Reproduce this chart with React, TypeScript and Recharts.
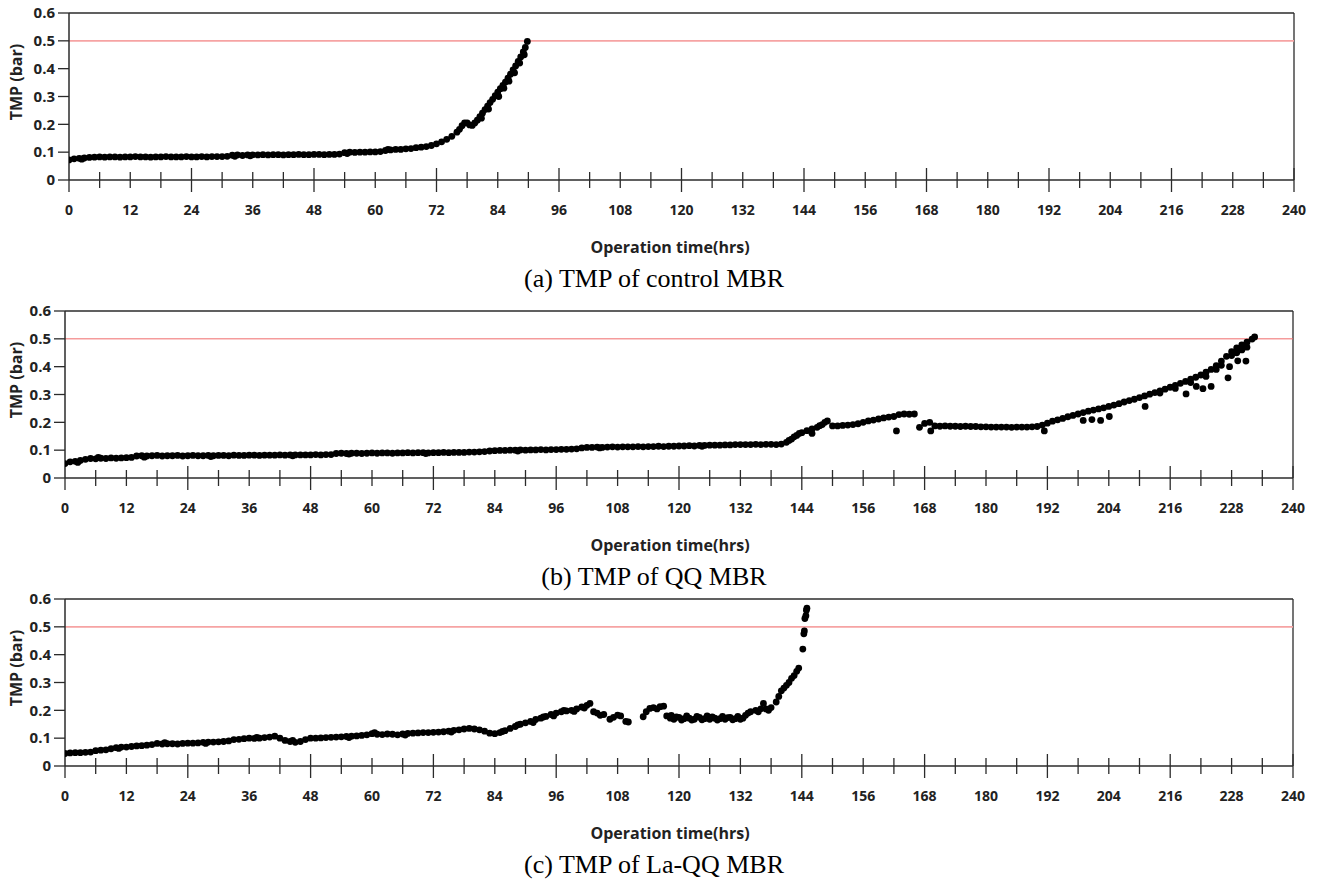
import { ScatterChart, Scatter, XAxis, YAxis, ReferenceLine } from "recharts";

type Pair = [number, number];

const hourTicks = [
  0, 6, 12, 18, 24, 30, 36, 42, 48, 54, 60, 66, 72, 78, 84, 90, 96, 102, 108, 114, 120,
  126, 132, 138, 144, 150, 156, 162, 168, 174, 180, 186, 192, 198, 204, 210, 216, 222,
  228, 234, 240,
];
const tmpTicks = [0, 0.1, 0.2, 0.3, 0.4, 0.5, 0.6];

// (a) control MBR
const controlTmp: Pair[] = [
  [0, 0.072], [1, 0.076], [2, 0.078], [3, 0.079], [4, 0.081], [5, 0.082], [6, 0.083], [7, 0.082],
  [8, 0.083], [9, 0.083], [10, 0.082], [11, 0.083], [12, 0.083], [13, 0.084], [14, 0.083], [15, 0.083],
  [16, 0.082], [17, 0.083], [18, 0.083], [19, 0.084], [20, 0.083], [21, 0.083], [22, 0.083], [23, 0.084],
  [24, 0.083], [25, 0.083], [26, 0.084], [27, 0.083], [28, 0.084], [29, 0.084], [30, 0.084], [31, 0.085],
  [32, 0.089], [33, 0.09], [34, 0.088], [35, 0.09], [36, 0.09], [37, 0.09], [38, 0.091], [39, 0.09],
  [40, 0.091], [41, 0.091], [42, 0.09], [43, 0.091], [44, 0.091], [45, 0.092], [46, 0.091], [47, 0.091],
  [48, 0.092], [49, 0.092], [50, 0.091], [51, 0.092], [52, 0.092], [53, 0.093], [54, 0.098], [55, 0.1],
  [56, 0.099], [57, 0.1], [58, 0.1], [59, 0.101], [60, 0.101], [61, 0.102], [62, 0.106], [63, 0.108],
  [64, 0.11], [65, 0.11], [66, 0.112], [67, 0.113], [68, 0.116], [69, 0.118], [70, 0.12], [71, 0.124],
  [72, 0.13], [73, 0.137], [74, 0.146], [75, 0.157], [76, 0.172], [76.5, 0.182], [77, 0.195], [77.5, 0.205],
  [78, 0.205], [78.5, 0.198], [79, 0.196], [79.5, 0.205], [80, 0.215], [80.5, 0.228], [81, 0.24], [81.5, 0.253],
  [82, 0.265], [82.5, 0.278], [83, 0.29], [83.5, 0.303], [84, 0.316], [84.5, 0.328], [85, 0.34], [85.5, 0.352],
  [86, 0.366], [86.5, 0.38], [87, 0.396], [87.5, 0.41], [88, 0.426], [88.5, 0.442], [89, 0.46], [89.4, 0.476],
  [89.8, 0.498],
];
const controlStray: Pair[] = [
  [2.5, 0.075], [32.5, 0.085], [35.5, 0.087], [54.5, 0.095], [62.5, 0.11], [80.8, 0.222], [82.2, 0.255],
  [84.2, 0.3], [85.2, 0.33], [86.2, 0.355], [87.3, 0.385], [88.3, 0.42], [89.2, 0.45],
];

// (b) QQ MBR
const qqTmp: Pair[] = [
  [0, 0.052], [1, 0.058], [2, 0.06], [3, 0.063], [4, 0.067], [5, 0.07], [6, 0.069], [7, 0.071],
  [8, 0.07], [9, 0.072], [10, 0.071], [11, 0.072], [12, 0.073], [13, 0.074], [14, 0.079], [15, 0.08],
  [16, 0.079], [17, 0.08], [18, 0.081], [19, 0.079], [20, 0.08], [21, 0.08], [22, 0.081], [23, 0.079],
  [24, 0.08], [25, 0.081], [26, 0.08], [27, 0.08], [28, 0.081], [29, 0.08], [30, 0.081], [31, 0.081],
  [32, 0.08], [33, 0.082], [34, 0.081], [35, 0.081], [36, 0.082], [37, 0.082], [38, 0.081], [39, 0.082],
  [40, 0.082], [41, 0.082], [42, 0.083], [43, 0.082], [44, 0.083], [45, 0.083], [46, 0.083], [47, 0.083],
  [48, 0.083], [49, 0.084], [50, 0.083], [51, 0.084], [52, 0.084], [53, 0.088], [54, 0.089], [55, 0.088],
  [56, 0.089], [57, 0.089], [58, 0.088], [59, 0.089], [60, 0.09], [61, 0.089], [62, 0.09], [63, 0.09],
  [64, 0.089], [65, 0.09], [66, 0.09], [67, 0.091], [68, 0.09], [69, 0.091], [70, 0.091], [71, 0.09],
  [72, 0.091], [73, 0.091], [74, 0.092], [75, 0.091], [76, 0.092], [77, 0.092], [78, 0.092], [79, 0.093],
  [80, 0.093], [81, 0.094], [82, 0.095], [83, 0.097], [84, 0.098], [85, 0.099], [86, 0.099], [87, 0.1],
  [88, 0.1], [89, 0.101], [90, 0.1], [91, 0.101], [92, 0.101], [93, 0.102], [94, 0.101], [95, 0.102],
  [96, 0.102], [97, 0.103], [98, 0.103], [99, 0.104], [100, 0.105], [101, 0.108], [102, 0.11], [103, 0.11],
  [104, 0.111], [105, 0.11], [106, 0.111], [107, 0.112], [108, 0.111], [109, 0.112], [110, 0.112], [111, 0.112],
  [112, 0.113], [113, 0.112], [114, 0.113], [115, 0.113], [116, 0.114], [117, 0.113], [118, 0.114], [119, 0.114],
  [120, 0.115], [121, 0.115], [122, 0.116], [123, 0.115], [124, 0.117], [125, 0.117], [126, 0.118], [127, 0.118],
  [128, 0.118], [129, 0.119], [130, 0.119], [131, 0.12], [132, 0.12], [133, 0.12], [134, 0.12], [135, 0.121],
  [136, 0.12], [137, 0.121], [138, 0.121], [139, 0.12], [140, 0.122], [141, 0.128], [142, 0.14], [143, 0.153],
  [144, 0.163], [145, 0.17], [146, 0.176], [147, 0.182], [148, 0.192], [149, 0.205], [150, 0.187], [151, 0.187],
  [152, 0.189], [153, 0.19], [154, 0.192], [155, 0.195], [156, 0.2], [157, 0.205], [158, 0.208], [159, 0.212],
  [160, 0.216], [161, 0.219], [162, 0.221], [163, 0.228], [164, 0.23], [165, 0.229], [166, 0.23], [167, 0.182],
  [168, 0.196], [169, 0.2], [170, 0.187], [171, 0.186], [172, 0.187], [173, 0.186], [174, 0.186], [175, 0.185],
  [176, 0.186], [177, 0.185], [178, 0.185], [179, 0.184], [180, 0.184], [181, 0.183], [182, 0.183], [183, 0.183],
  [184, 0.183], [185, 0.182], [186, 0.183], [187, 0.183], [188, 0.183], [189, 0.184], [190, 0.185], [191, 0.19],
  [192, 0.197], [193, 0.204], [194, 0.209], [195, 0.214], [196, 0.22], [197, 0.225], [198, 0.23], [199, 0.235],
  [200, 0.24], [201, 0.244], [202, 0.248], [203, 0.252], [204, 0.257], [205, 0.262], [206, 0.267], [207, 0.273],
  [208, 0.278], [209, 0.283], [210, 0.289], [211, 0.295], [212, 0.301], [213, 0.307], [214, 0.313], [215, 0.319],
  [216, 0.326], [217, 0.333], [218, 0.34], [219, 0.347], [220, 0.355], [221, 0.362], [222, 0.37], [223, 0.38],
  [224, 0.39], [225, 0.404], [226, 0.42], [227, 0.437], [228, 0.454], [229, 0.467], [230, 0.478], [231, 0.488],
  [232, 0.499], [232.5, 0.507],
];
const qqStray: Pair[] = [
  [2.5, 0.056], [6.5, 0.074], [15.5, 0.075], [28.5, 0.077], [44.5, 0.08], [55.5, 0.086], [70.5, 0.088],
  [88.5, 0.097], [104.5, 0.108], [124.5, 0.114], [141.5, 0.135], [142.5, 0.148], [143.5, 0.16],
  [146, 0.16], [147.5, 0.188], [148.5, 0.2], [162.5, 0.169], [169.2, 0.169], [191.4, 0.169], [199, 0.207],
  [200.7, 0.21], [202.4, 0.207], [204.1, 0.221], [211.1, 0.257], [214, 0.305], [217, 0.322], [219.1, 0.302],
  [220, 0.343], [221.1, 0.329], [222.4, 0.321], [223, 0.365], [224, 0.329], [225, 0.39], [226, 0.405],
  [227.3, 0.36], [227.6, 0.4], [228, 0.44], [229, 0.45], [229.2, 0.421], [230, 0.46], [230.8, 0.42], [231, 0.47],
];

// (c) La-QQ MBR
const laqqTmp: Pair[] = [
  [0, 0.045], [1, 0.047], [2, 0.048], [3, 0.048], [4, 0.049], [5, 0.05], [6, 0.055], [7, 0.057],
  [8, 0.058], [9, 0.062], [10, 0.066], [11, 0.068], [12, 0.068], [13, 0.07], [14, 0.072], [15, 0.073],
  [16, 0.075], [17, 0.077], [18, 0.081], [19, 0.079], [20, 0.08], [21, 0.08], [22, 0.079], [23, 0.081],
  [24, 0.082], [25, 0.082], [26, 0.083], [27, 0.085], [28, 0.086], [29, 0.086], [30, 0.087], [31, 0.088],
  [32, 0.09], [33, 0.095], [34, 0.096], [35, 0.098], [36, 0.1], [37, 0.099], [38, 0.1], [39, 0.102],
  [40, 0.104], [41, 0.107], [42, 0.1], [43, 0.092], [44, 0.088], [45, 0.085], [46, 0.088], [47, 0.095],
  [48, 0.1], [49, 0.1], [50, 0.101], [51, 0.102], [52, 0.103], [53, 0.104], [54, 0.105], [55, 0.106],
  [56, 0.107], [57, 0.108], [58, 0.11], [59, 0.112], [60, 0.116], [61, 0.114], [62, 0.113], [63, 0.115],
  [64, 0.114], [65, 0.112], [66, 0.115], [67, 0.117], [68, 0.118], [69, 0.119], [70, 0.12], [71, 0.12],
  [72, 0.121], [73, 0.122], [74, 0.123], [75, 0.125], [76, 0.128], [77, 0.13], [78, 0.133], [79, 0.135],
  [80, 0.133], [81, 0.13], [82, 0.125], [83, 0.118], [84, 0.116], [85, 0.12], [86, 0.127], [87, 0.135],
  [88, 0.142], [89, 0.15], [90, 0.155], [91, 0.16], [92, 0.167], [93, 0.172], [94, 0.178], [95, 0.185],
  [96, 0.19], [97, 0.195], [98, 0.198], [99, 0.2], [100, 0.205], [101, 0.212], [102, 0.218], [102.6, 0.225],
  [103.3, 0.195], [104, 0.19], [104.6, 0.182], [105.3, 0.185], [106.5, 0.168], [107.2, 0.175], [108, 0.183],
  [108.6, 0.18], [109.6, 0.16], [110.1, 0.158], [113, 0.177], [113.6, 0.195], [114.3, 0.207], [115, 0.21],
  [115.7, 0.205], [116.3, 0.213], [117, 0.215], [117.6, 0.18], [118.3, 0.172], [119, 0.168], [120, 0.175],
  [121, 0.17], [122, 0.172], [123, 0.168], [124, 0.175], [125, 0.17], [126, 0.168], [127, 0.172], [128, 0.17],
  [129, 0.168], [130, 0.175], [131, 0.17], [132, 0.168], [133, 0.182], [134, 0.195], [135, 0.2], [136, 0.205],
  [136.5, 0.225], [137, 0.205], [138, 0.21], [139, 0.23], [140, 0.27], [141, 0.29], [142, 0.315], [143, 0.34],
  [143.4, 0.352],
];
const laqqStray: Pair[] = [
  [10.5, 0.063], [19.5, 0.084], [27.5, 0.081], [37.5, 0.103], [44.5, 0.092], [55.5, 0.102], [60.5, 0.12],
  [66.5, 0.111], [75.5, 0.122], [85.5, 0.124], [88.5, 0.148], [91.5, 0.156], [93.5, 0.176], [95.5, 0.18],
  [97.5, 0.2], [99.5, 0.196], [101.5, 0.208],
  [118.5, 0.182], [119.5, 0.176], [120.5, 0.165], [121.5, 0.18], [122.5, 0.165], [123.5, 0.178],
  [124.5, 0.166], [125.5, 0.18], [126.5, 0.176], [127.5, 0.165], [128.5, 0.178], [129.5, 0.174],
  [130.5, 0.166], [131.5, 0.178], [132.5, 0.172], [133.5, 0.19], [135.5, 0.195], [137.5, 0.2],
  [139.5, 0.25], [140.5, 0.28], [141.5, 0.3], [142.5, 0.325],
  [144.2, 0.42], [144.4, 0.475], [144.5, 0.485], [144.6, 0.53], [144.8, 0.54], [144.9, 0.56], [145, 0.567],
];

const sans = "'Open Sans', 'DejaVu Sans', sans-serif";
const ink = "#2b2b2b";

const HourTick = (props: any) => {
  const { x, y, payload } = props;
  const v = payload.value as number;
  const h = v % 24 === 0 ? 12 : 8;
  return (
    <g>
      <line x1={x} x2={x} y1={v === 0 ? y : y - h} y2={y + h} stroke={ink} strokeWidth={1.3} />
      {v % 12 === 0 && (
        <text x={x} y={y + 30} dy="0.35em" textAnchor="middle" fontFamily={sans} fontWeight={700} fontSize={14} fill="#222">
          {v}
        </text>
      )}
    </g>
  );
};

const dot = (p: any) => <circle cx={p.cx} cy={p.cy} r={3.4} fill="#000" />;

const toPoints = (rows: Pair[]) => rows.map(([t, v]) => ({ t, v }));

function Panel({
  top,
  left,
  right,
  rows,
  stray,
  caption,
  limitColor,
  limitWidth,
}: {
  top: number;
  left: number;
  right: number;
  rows: Pair[];
  stray: Pair[];
  caption: string;
  limitColor: string;
  limitWidth: number;
}) {
  return (
    <div style={{ position: "absolute", top, left: 0, width: 1323, height: 300 }}>
      <ScatterChart width={1323} height={300} margin={{ top: 13, right: 1323 - right, left: 0, bottom: 0 }}>
        <XAxis
          type="number"
          dataKey="t"
          domain={[0, 240]}
          ticks={hourTicks}
          interval={0}
          tickSize={0}
          tickMargin={0}
          tickLine={false}
          tick={<HourTick />}
          axisLine={{ stroke: ink, strokeWidth: 1.3 }}
          height={120}
          allowDataOverflow
        />
        <YAxis
          type="number"
          dataKey="v"
          domain={[0, 0.6]}
          ticks={tmpTicks}
          interval={0}
          width={left}
          tickSize={11}
          tickMargin={3}
          tickLine={{ stroke: ink, strokeWidth: 1.3 }}
          axisLine={{ stroke: ink, strokeWidth: 1.5 }}
          tick={{ fontFamily: sans, fontWeight: 700, fontSize: 15, fill: "#222" }}
          allowDataOverflow
        />
        <ReferenceLine y={0.6} stroke={ink} strokeWidth={1.3} />
        <ReferenceLine x={240} stroke={ink} strokeWidth={1.3} />
        <ReferenceLine y={0.5} stroke={limitColor} strokeWidth={limitWidth} />
        <Scatter data={toPoints(rows)} shape={dot} isAnimationActive={false} />
        <Scatter data={toPoints(stray)} shape={dot} isAnimationActive={false} />
      </ScatterChart>
      <div
        style={{
          position: "absolute",
          left: 16 - 60,
          top: 82 - 11,
          width: 120,
          height: 22,
          lineHeight: "22px",
          textAlign: "center",
          transform: "rotate(-90deg)",
          fontFamily: sans,
          fontWeight: 700,
          fontSize: 16,
          color: "#222",
        }}
      >
        TMP (bar)
      </div>
      <div
        style={{
          position: "absolute",
          left: 670 - 150,
          top: 247 - 11,
          width: 300,
          lineHeight: "22px",
          textAlign: "center",
          fontFamily: sans,
          fontWeight: 700,
          fontSize: 16,
          color: "#222",
        }}
      >
        Operation time(hrs)
      </div>
      <div
        style={{
          position: "absolute",
          left: 654 - 200,
          top: 279 - 15,
          width: 400,
          lineHeight: "30px",
          textAlign: "center",
          fontFamily: "'Liberation Serif', 'Times New Roman', serif",
          fontSize: 26,
          color: "#000",
        }}
      >
        {caption}
      </div>
    </div>
  );
}

export default function App() {
  return (
    <div style={{ position: "absolute", left: 0, top: 0, width: 1323, height: 879, background: "#fff", overflow: "hidden" }}>
      <Panel top={0} left={69} right={1294} rows={controlTmp} stray={controlStray} caption="(a) TMP of control MBR" limitColor="#f6a3a3" limitWidth={1.6} />
      <Panel top={298} left={65} right={1293} rows={qqTmp} stray={qqStray} caption="(b) TMP of QQ MBR" limitColor="#f06a6a" limitWidth={1} />
      <Panel top={586} left={65} right={1293} rows={laqqTmp} stray={laqqStray} caption="(c) TMP of La-QQ MBR" limitColor="#f6a3a3" limitWidth={1.6} />
    </div>
  );
}
